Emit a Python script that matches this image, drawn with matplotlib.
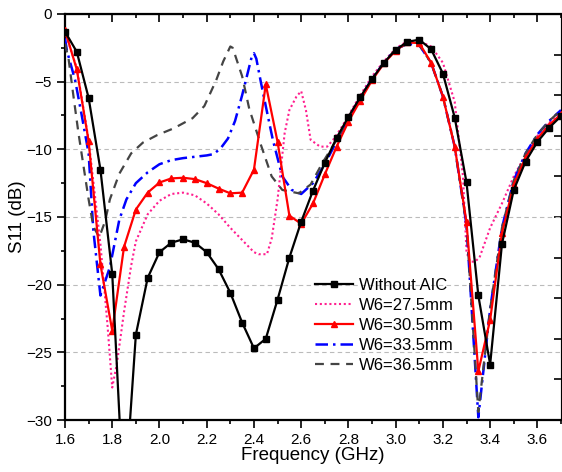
import matplotlib.pyplot as plt
import numpy as np
from matplotlib.ticker import MultipleLocator, FixedLocator, NullFormatter

plt.rcParams['font.family'] = ['Liberation Sans', 'DejaVu Sans']

# frequency grid for the curves drawn with markers (GHz)
freq = np.round(np.arange(1.60, 3.701, 0.05), 2)

s11_no_aic = [-1.3, -2.8, -6.2, -11.5, -19.2, -36.5, -23.7, -19.5, -17.6, -16.9,
              -16.65, -16.9, -17.6, -18.85, -20.6, -22.8, -24.7, -24.0, -21.1, -18.0,
              -15.35, -13.05, -11.0, -9.15, -7.6, -6.15, -4.8, -3.6, -2.65, -2.05,
              -1.9, -2.6, -4.4, -7.65, -12.45, -20.8, -25.9, -17.0, -13.0, -10.9,
              -9.45, -8.4, -7.55]

s11_w305 = [-1.2, -4.1, -9.4, -18.5, -23.4, -17.2, -14.45, -13.2, -12.45, -12.15,
            -12.1, -12.2, -12.5, -12.9, -13.25, -13.2, -11.5, -5.2, -9.45, -14.9,
            -15.5, -14.0, -11.85, -9.8, -7.95, -6.4, -4.9, -3.65, -2.7, -2.1,
            -2.15, -3.6, -6.1, -9.8, -15.4, -26.4, -22.6, -16.2, -12.6, -10.6,
            -9.2, -8.2, -7.4]

# W6 = 27.5 mm (no markers)
f_w275 = [1.60, 1.65, 1.70, 1.75, 1.78, 1.80, 1.82, 1.85, 1.88, 1.90, 1.95, 2.00,
          2.05, 2.10, 2.15, 2.20, 2.25, 2.30, 2.35, 2.40, 2.42, 2.455, 2.475, 2.50,
          2.53, 2.55, 2.58, 2.60, 2.62, 2.64, 2.68, 2.71, 2.735, 2.77, 2.80, 2.85,
          2.90, 2.95, 3.00, 3.05, 3.10, 3.15, 3.20, 3.25, 3.285, 3.30, 3.315, 3.335,
          3.355, 3.40, 3.45, 3.50, 3.55, 3.60, 3.65, 3.70]
s11_w275 = [-1.3, -4.0, -9.3, -17.0, -23.0, -27.6, -25.8, -22.0, -18.6, -16.8, -14.8, -13.8,
            -13.3, -13.2, -13.4, -14.0, -14.8, -15.8, -16.7, -17.6, -17.75, -17.75, -16.6, -13.7,
            -8.8, -7.1, -6.1, -5.7, -7.1, -9.3, -9.8, -9.8, -9.3, -8.4, -7.5, -6.0,
            -4.6, -3.5, -2.55, -2.0, -2.0, -2.4, -3.6, -6.5, -12.0, -17.6, -18.3, -18.3,
            -18.0, -15.8, -14.0, -12.0, -10.4, -9.0, -8.0, -7.2]

# W6 = 33.5 mm
f_w335 = [1.60, 1.608, 1.643, 1.672, 1.70, 1.72, 1.75, 1.79, 1.83, 1.86, 1.90, 1.95,
          2.00, 2.05, 2.10, 2.15, 2.20, 2.23, 2.26, 2.29, 2.32, 2.35, 2.37, 2.39,
          2.40, 2.41, 2.43, 2.45, 2.48, 2.52, 2.56, 2.60, 2.65, 2.70, 2.75, 2.80,
          2.85, 2.90, 2.95, 3.00, 3.05, 3.10, 3.15, 3.20, 3.25, 3.30, 3.35, 3.40,
          3.45, 3.50, 3.55, 3.60, 3.65, 3.70]
s11_w335 = [-1.8, -2.7, -4.9, -7.6, -10.3, -16.0, -20.8, -18.7, -15.2, -13.7, -12.5, -11.7,
            -11.1, -10.8, -10.65, -10.55, -10.45, -10.35, -9.9, -9.2, -7.9, -6.0, -4.6, -3.2,
            -2.9, -3.3, -5.1, -6.8, -9.3, -12.0, -13.0, -13.3, -12.5, -11.1, -9.4, -7.7,
            -6.2, -4.8, -3.6, -2.6, -2.2, -2.3, -3.6, -6.1, -9.8, -15.6, -29.8, -21.8,
            -15.8, -12.3, -10.3, -8.9, -7.9, -7.1]

# W6 = 36.5 mm
f_w365 = [1.60, 1.615, 1.636, 1.657, 1.70, 1.72, 1.745, 1.77, 1.79, 1.83, 1.88, 1.93,
          1.99, 2.06, 2.14, 2.19, 2.24, 2.27, 2.30, 2.31, 2.35, 2.38, 2.43, 2.475,
          2.52, 2.59, 2.64, 2.69, 2.75, 2.80, 2.85, 2.90, 2.95, 3.00, 3.05, 3.10,
          3.15, 3.20, 3.25, 3.30, 3.35, 3.40, 3.45, 3.50, 3.55, 3.60, 3.65, 3.70]
s11_w365 = [-2.2, -3.3, -6.1, -8.8, -13.7, -15.7, -16.5, -15.3, -13.7, -11.8, -10.3, -9.5,
            -8.95, -8.45, -7.7, -6.8, -4.9, -3.5, -2.4, -2.5, -4.6, -7.0, -9.7, -12.0,
            -13.0, -13.25, -12.6, -11.0, -9.3, -7.7, -6.2, -4.8, -3.6, -2.6, -2.2, -2.3,
            -3.6, -6.1, -9.8, -15.6, -29.4, -21.8, -15.8, -12.3, -10.3, -8.9, -7.9, -7.1]

fig = plt.figure(figsize=(5.62, 4.72), dpi=100)
ax = fig.add_axes([65 / 562, 52 / 472, 496 / 562, 406 / 472])

ax.plot(freq, s11_no_aic, color='black', lw=1.6, marker='s', ms=4,
        label='Without AIC', zorder=5)
ax.plot(f_w275, s11_w275, color='#ff1f8f', lw=1.5, ls=(0, (1, 1.3)),
        label='W6=27.5mm', zorder=3)
ax.plot(freq, s11_w305, color='red', lw=1.6, marker='^', ms=5,
        label='W6=30.5mm', zorder=4)
ax.plot(f_w335, s11_w335, color='blue', lw=1.8, ls=(0, (5, 2, 1, 2)),
        label='W6=33.5mm', zorder=3)
ax.plot(f_w365, s11_w365, color='#444444', lw=1.6, ls=(0, (4, 3)),
        label='W6=36.5mm', zorder=3)

ax.set_xlim(1.6, 3.7)
ax.set_ylim(-30, 0)
ax.xaxis.set_major_locator(MultipleLocator(0.2))
ax.xaxis.set_minor_locator(MultipleLocator(0.1))
ax.yaxis.set_major_locator(MultipleLocator(5))
ax.yaxis.set_minor_locator(MultipleLocator(2.5))
ax.xaxis.set_major_formatter(plt.FuncFormatter(lambda v, p: f'{v:.1f}'))
ax.tick_params(which='major', direction='out', length=6, width=1.2, labelsize=11)
ax.tick_params(which='minor', direction='out', length=3, width=1.2)
ax.set_yticks([-30, -25, -20, -15, -10, -5, 0])

for v in [-5, -10, -15, -20, -25]:
    ax.axhline(v, color='#bbbbbb', lw=0.8, ls=(0, (4, 3)), zorder=1)

top = ax.secondary_xaxis('top')
top.xaxis.set_major_locator(MultipleLocator(0.2))
top.xaxis.set_minor_locator(MultipleLocator(0.1))
top.xaxis.set_major_formatter(NullFormatter())
top.tick_params(which='major', direction='in', length=6, width=1.2)
top.tick_params(which='minor', direction='in', length=3, width=1.2)

right = ax.secondary_yaxis('right')
right.yaxis.set_major_locator(FixedLocator([-27, -24, -21, -18, -15, -12, -9, -6, -3]))
right.yaxis.set_major_formatter(NullFormatter())
right.tick_params(which='major', direction='in', length=5, width=1.2)
right.spines['right'].set_color('#aaaaaa')

for sp in ['left', 'bottom']:
    ax.spines[sp].set_linewidth(1.6)
top.spines['top'].set_linewidth(1.6)

ax.set_xlabel('Frequency (GHz)', fontsize=13.5, labelpad=0)
ax.set_ylabel('S11 (dB)', fontsize=13.5, labelpad=0)

ax.legend(loc='upper left', bbox_to_anchor=(0.49, 0.367), frameon=False,
          fontsize=12, handlelength=2.3, handletextpad=0.35, labelspacing=0.3,
          borderaxespad=0)

fig.savefig('out.png', dpi=100)
